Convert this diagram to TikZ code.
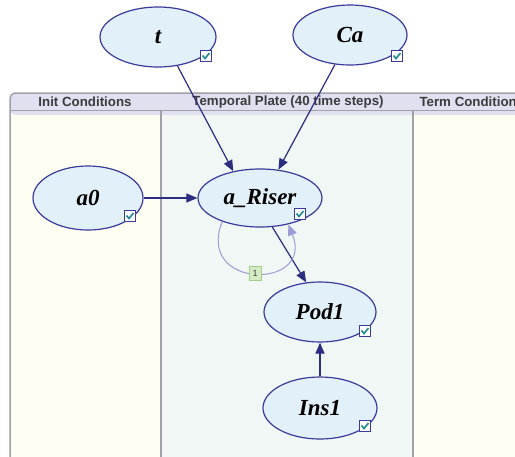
\documentclass[tikz,border=0pt]{standalone}
\usepackage{fontspec}
\setmainfont{Liberation Serif}
\newfontfamily\hdrfont{Liberation Sans}
\usetikzlibrary{shapes.geometric,arrows.meta,calc}
\definecolor{nodefill}{HTML}{E2F1F9}
\definecolor{nodedraw}{HTML}{3A3A9C}
\definecolor{arrowc}{HTML}{2C2C80}
\definecolor{loopc}{HTML}{9C9CD6}
\definecolor{initfill}{HTML}{FFFEF2}
\definecolor{tempfill}{HTML}{F0F7F4}
\definecolor{hdrfill}{HTML}{E0E0F0}
\definecolor{platebd}{HTML}{A0A0A8}
\definecolor{hdrtext}{HTML}{3C3C3C}
\definecolor{checkc}{HTML}{1E8C8C}
\definecolor{lblfill}{HTML}{D4EBC4}
\definecolor{lbldraw}{HTML}{A6CC8E}
\tikzset{
  varnode/.style={ellipse, draw=nodedraw, fill=nodefill, line width=1.2pt,
    inner sep=0pt, font=\fontsize{23}{26}\selectfont\bfseries\itshape},
  cbox/.style={rectangle, draw=nodedraw, fill=white, line width=0.9pt,
    minimum size=11pt, inner sep=0pt,
    path picture={\draw[checkc, line width=1.6pt]
      ([shift={(-3.5pt,0.5pt)}]path picture bounding box.center) --
      ([shift={(-1pt,-2.5pt)}]path picture bounding box.center) --
      ([shift={(3.5pt,3pt)}]path picture bounding box.center);}},
  link/.style={draw=arrowc, line width=1.2pt, -{Triangle[length=11pt,width=9pt]}},
  loopl/.style={draw=loopc, line width=1pt, -{Triangle[length=11pt,width=9pt]}},
  hdr/.style={font=\hdrfont\fontsize{13.3}{15}\selectfont\bfseries, text=hdrtext},
  lbl/.style={rectangle, fill=lblfill, draw=lbldraw, line width=0.6pt,
    inner sep=1.5pt, minimum width=12pt, minimum height=14pt,
    font=\hdrfont\fontsize{9}{10}\selectfont, text=black!75}
}
\begin{document}
\begin{tikzpicture}[x=1pt,y=-1pt]
\useasboundingbox (0,0) rectangle (515,456);
\clip (0,0) rectangle (515,456);
% plate
\fill[initfill] (10,110) rectangle (161,460);
\fill[tempfill] (161,110) rectangle (413,460);
\fill[initfill] (413,110) rectangle (540,460);
\fill[hdrfill, rounded corners=6pt] (10,115) -- (10,93) -- (540,93) -- (540,115) -- cycle;
\fill[hdrfill] (10,102) rectangle (540,110);
\draw[platebd, line width=1.5pt] (161,110) -- (161,460);
\draw[platebd, line width=1.5pt] (413,110) -- (413,460);
\draw[platebd, line width=0.8pt] (10,110) -- (540,110);
\draw[platebd, line width=1.5pt] (10,460) [rounded corners=6pt] -- (10,93) -- (540,93);
\node[hdr] (h1) at (85,102) {Init Conditions};
\node[hdr] (h2) at (288,102) {Temporal Plate (40 time steps)};
\node[hdr, anchor=west] (h3) at (416,102) {Term Conditions};
% nodes
\node[varnode, minimum width=116pt, minimum height=60pt] (t) at (158,37) {t};
\node[varnode, minimum width=114pt, minimum height=60pt] (ca) at (350,35) {Ca};
\node[varnode, minimum width=110pt, minimum height=64pt] (a0) at (88,198) {a0};
\node[varnode, minimum width=124pt, minimum height=58pt] (ar) at (260,198) {a\_Riser};
\node[varnode, minimum width=112pt, minimum height=60pt] (pod) at (320,312) {Pod1};
\node[varnode, minimum width=114pt, minimum height=62pt] (ins) at (320,408) {Ins1};
% connectors
\draw[link] (t.304) -- (ar.135);
\draw[link] (ca.243) -- (ar.57);
\draw[link] (a0.east) -- (ar.west);
\draw[link] (ar.293) -- (pod.115);
\draw[link] (ins.north) -- (pod.south);
\draw[loopl] (ar.212) .. controls (195,290) and (315,290) .. (ar.317)
  node[lbl, pos=0.5] (l1) {1};
% check boxes
\node[cbox] (tcb) at ($(t)+(48,19)$) {};
\node[cbox] (cacb) at ($(ca)+(47,21)$) {};
\node[cbox] (a0cb) at ($(a0)+(42,18)$) {};
\node[cbox] (arcb) at ($(ar)+(40,16)$) {};
\node[cbox] (podcb) at ($(pod)+(45,19)$) {};
\node[cbox] (inscb) at ($(ins)+(45,18)$) {};
\end{tikzpicture}
\end{document}
